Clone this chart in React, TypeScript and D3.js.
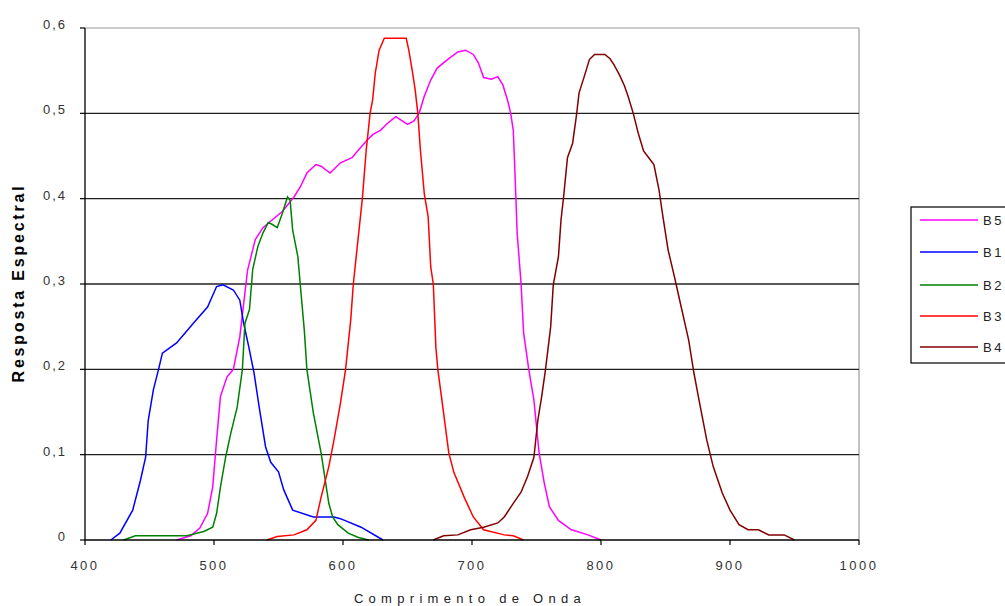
import React from "react";
import * as d3 from "d3";

const b1Wave = [420, 427, 437, 443, 447, 449, 453, 457, 460, 471, 484, 495, 502, 507, 515, 520, 523, 527, 531, 535, 540, 544, 550, 554, 561, 577, 593, 598, 614, 631];
const b1Resp = [0, 0.008, 0.035, 0.07, 0.097, 0.14, 0.176, 0.2, 0.219, 0.231, 0.254, 0.273, 0.297, 0.299, 0.293, 0.281, 0.254, 0.226, 0.196, 0.156, 0.109, 0.091, 0.08, 0.059, 0.035, 0.027, 0.027, 0.025, 0.015, 0];

const b2Wave = [430, 439, 479, 492, 499, 502, 505, 509, 513, 518, 522, 524, 527.5, 530, 534, 538, 542, 545, 549, 553, 557, 559, 561, 565, 567, 570, 572, 577, 583, 589, 592, 596, 604, 612, 620];
const b2Resp = [0, 0.005, 0.005, 0.01, 0.015, 0.031, 0.062, 0.097, 0.125, 0.156, 0.2, 0.254, 0.27, 0.317, 0.344, 0.36, 0.372, 0.37, 0.366, 0.383, 0.402, 0.398, 0.363, 0.332, 0.297, 0.246, 0.2, 0.149, 0.102, 0.043, 0.027, 0.018, 0.008, 0.003, 0];

const b5Wave = [471, 482, 489, 495, 499, 502, 505, 510, 515, 520, 523, 526, 528, 532, 538, 545, 553, 562, 567, 572, 579, 583, 590, 598, 607, 612, 619, 623, 629, 635, 641, 645, 650, 655, 659, 663, 668, 673, 681, 689, 695, 701, 705, 709, 715, 720, 724, 728, 730, 732, 733, 734, 735, 738, 740, 744, 748, 752, 756, 760, 767, 777, 790, 800];
const b5Resp = [0, 0.005, 0.014, 0.031, 0.062, 0.117, 0.168, 0.191, 0.2, 0.238, 0.277, 0.316, 0.328, 0.352, 0.366, 0.375, 0.385, 0.402, 0.414, 0.43, 0.44, 0.438, 0.43, 0.442, 0.448, 0.457, 0.469, 0.475, 0.48, 0.489, 0.496, 0.492, 0.487, 0.491, 0.5, 0.52, 0.539, 0.553, 0.563, 0.572, 0.574, 0.569, 0.559, 0.542, 0.54, 0.543, 0.533, 0.513, 0.5, 0.48, 0.442, 0.402, 0.36, 0.301, 0.243, 0.2, 0.164, 0.102, 0.067, 0.039, 0.023, 0.012, 0.006, 0];

const b3Wave = [541, 549, 562, 572, 579, 583, 589, 593, 598, 602, 606, 608, 611, 615, 618, 621, 623, 625, 628, 632, 649, 651, 654, 656, 658, 660, 663, 666, 668, 670, 672, 673.5, 677, 682, 686, 694, 701, 709, 725, 732, 740];
const b3Resp = [0, 0.004, 0.006, 0.012, 0.023, 0.05, 0.086, 0.117, 0.16, 0.2, 0.258, 0.3, 0.343, 0.4, 0.457, 0.5, 0.516, 0.547, 0.574, 0.588, 0.588, 0.574, 0.547, 0.527, 0.5, 0.457, 0.406, 0.379, 0.32, 0.3, 0.226, 0.2, 0.16, 0.102, 0.079, 0.05, 0.027, 0.012, 0.006, 0.005, 0];

const b4Wave = [670, 678, 689, 699, 709, 720, 725, 732, 738, 743, 748, 751, 754, 757, 761, 763, 767, 769, 771, 774, 778, 781, 783, 787, 791, 795, 803, 807, 810, 814, 818, 821, 825, 829, 833, 837, 841, 845, 848, 852, 857, 861, 868, 872, 876, 882, 887, 894, 900, 907, 914, 922, 930, 942, 950];
const b4Resp = [0, 0.005, 0.006, 0.012, 0.015, 0.02, 0.027, 0.043, 0.056, 0.074, 0.097, 0.14, 0.168, 0.2, 0.25, 0.299, 0.332, 0.375, 0.402, 0.448, 0.465, 0.498, 0.524, 0.543, 0.563, 0.569, 0.569, 0.564, 0.557, 0.546, 0.533, 0.52, 0.5, 0.476, 0.456, 0.448, 0.44, 0.41, 0.379, 0.34, 0.308, 0.281, 0.234, 0.196, 0.164, 0.117, 0.086, 0.055, 0.035, 0.018, 0.012, 0.012, 0.006, 0.006, 0];

const seriesNames = ["B5", "B1", "B2", "B3", "B4"];
const seriesColors = ["#FF00FF", "#0000FF", "#008000", "#FF0000", "#800000"];
const xTicks = [400, 500, 600, 700, 800, 900, 1000];
const yTicks = [0, 0.1, 0.2, 0.3, 0.4, 0.5, 0.6];
const yTickLabels = ["0", "0,1", "0,2", "0,3", "0,4", "0,5", "0,6"];

const FONT = "'Liberation Sans', Arial, sans-serif";

export default function App() {
  const L = 85, R = 859, T = 28, B = 540;
  const x = d3.scaleLinear().domain([400, 1000]).range([L, R]);
  const y = d3.scaleLinear().domain([0, 0.6]).range([B, T]);
  const waves = [b5Wave, b1Wave, b2Wave, b3Wave, b4Wave];
  const resps = [b5Resp, b1Resp, b2Resp, b3Resp, b4Resp];
  const line = d3
    .line<[number, number]>()
    .x((d) => x(d[0]))
    .y((d) => y(d[1]));

  const legendX = 911, legendY = 207;
  const legendRowY = [220, 252, 285, 316, 347];

  return (
    <svg
      width={1005}
      height={606}
      style={{ position: "absolute", left: 0, top: 0, background: "#fff" }}
      fontFamily={FONT}
    >
      <rect x={0} y={0} width={1005} height={606} fill="#fff" />
      {/* top & right border */}
      <line x1={L} x2={R} y1={y(0.6)} y2={y(0.6)} stroke="#999" strokeWidth={1.2} />
      <line x1={R} x2={R} y1={T} y2={B} stroke="#999" strokeWidth={1.2} />
      {/* gridlines */}
      {yTicks.slice(1, 6).map((t) => (
        <line key={t} x1={L} x2={R} y1={y(t)} y2={y(t)} stroke="#222" strokeWidth={1.3} />
      ))}
      {/* series */}
      {waves.map((w, i) => (
        <path
          key={seriesNames[i]}
          d={line(w.map((v, j) => [v, resps[i][j]] as [number, number])) || ""}
          fill="none"
          stroke={seriesColors[i]}
          strokeWidth={1.5}
        />
      ))}
      {/* axes */}
      <line x1={L} x2={L} y1={T} y2={B} stroke="#000" strokeWidth={1.3} />
      <line x1={L} x2={R} y1={B} y2={B} stroke="#000" strokeWidth={1.3} />
      {yTicks.map((t, i) => (
        <g key={t}>
          <line x1={L - 5} x2={L} y1={y(t)} y2={y(t)} stroke="#000" strokeWidth={1.2} />
          <text
            x={67}
            y={y(t) + 1}
            textAnchor="end"
            fontSize={13}
            letterSpacing={2}
            fill="#333"
          >
            {yTickLabels[i]}
          </text>
        </g>
      ))}
      {xTicks.map((t) => (
        <g key={t}>
          <line x1={x(t)} x2={x(t)} y1={B} y2={B + 5} stroke="#000" strokeWidth={1.2} />
          <text
            x={x(t)}
            y={B + 30}
            textAnchor="middle"
            fontSize={13}
            letterSpacing={2.5}
            fill="#333"
          >
            {t}
          </text>
        </g>
      ))}
      {/* axis titles */}
      <text
        x={470}
        y={603}
        textAnchor="middle"
        fontSize={13}
        letterSpacing={5.3}
        fill="#222"
      >
        Comprimento de Onda
      </text>
      <text
        transform={`translate(24, 283) rotate(-90)`}
        textAnchor="middle"
        fontSize={16}
        fontWeight="bold"
        letterSpacing={2.8}
        fill="#000"
      >
        Resposta Espectral
      </text>
      {/* legend */}
      <rect
        x={legendX}
        y={legendY}
        width={120}
        height={156}
        fill="#fff"
        stroke="#000"
        strokeWidth={1.2}
      />
      {seriesNames.map((n, i) => (
        <g key={n}>
          <line
            x1={920}
            x2={978}
            y1={legendRowY[i]}
            y2={legendRowY[i]}
            stroke={seriesColors[i]}
            strokeWidth={1.5}
          />
          <text x={983} y={legendRowY[i] + 5} fontSize={13} letterSpacing={2.5} fill="#222">
            {n}
          </text>
        </g>
      ))}
    </svg>
  );
}
